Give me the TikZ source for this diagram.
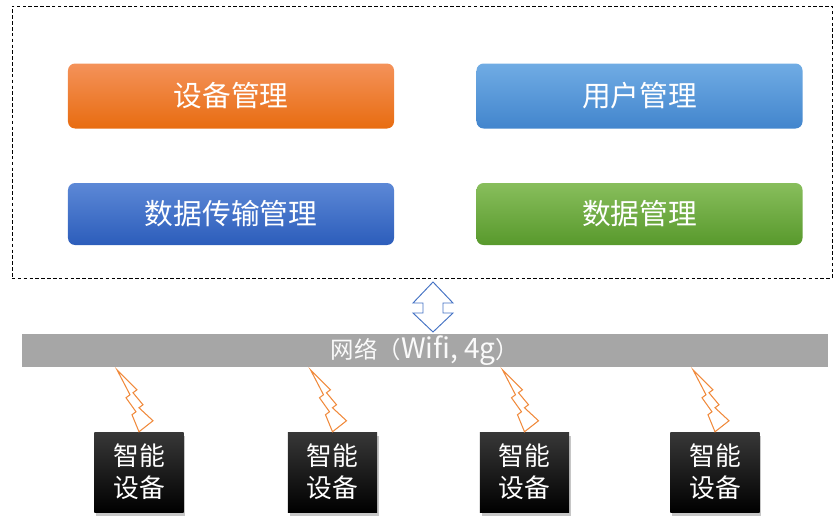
\documentclass[tikz,border=0pt]{standalone}
\usepackage{fontspec}
\newfontfamily\cjk{Noto Sans CJK SC}
\usetikzlibrary{shadows}

\definecolor{naranjaA}{HTML}{F4925A}
\definecolor{naranjaB}{HTML}{E86C10}
\definecolor{celesteA}{HTML}{70ACE4}
\definecolor{celesteB}{HTML}{4285CD}
\definecolor{azulA}{HTML}{5C88D6}
\definecolor{azulB}{HTML}{2C5DBB}
\definecolor{verdeA}{HTML}{88BE5C}
\definecolor{verdeB}{HTML}{58992C}
\definecolor{gris}{HTML}{A6A6A6}
\definecolor{flechaazul}{HTML}{4472C4}
\definecolor{rayonaranja}{HTML}{F08A3C}

\begin{document}
\begin{tikzpicture}[x=0.03cm, y=-0.03cm,
    modulo/.style={rounded corners=6pt, minimum width=9.78cm, minimum height=1.95cm,
        text=white, font=\cjk\fontsize{24.5}{28}\selectfont},
    equipo/.style={minimum width=2.68cm, minimum height=2.4cm, align=center,
        top color=black!78, middle color=black, bottom color=black, text=white,
        font=\cjk\fontsize{22}{27}\selectfont,
        drop shadow={shadow xshift=1.5pt, shadow yshift=-3pt, opacity=0.45}},
    rayo/.style={draw=rayonaranja, line width=0.9pt, line join=miter}]

    \useasboundingbox (0,0) rectangle (840,529);

    % plataforma
    \node[draw, dash pattern=on 3pt off 2pt, line width=0.6pt,
        minimum width=24.6cm, minimum height=8.16cm] (plataforma) at (422,142) {};
    \node[modulo, top color=naranjaA, bottom color=naranjaB] (dispositivos) at (231,96) {设备管理};
    \node[modulo, top color=celesteA, bottom color=celesteB] (usuarios) at (639.5,96) {用户管理};
    \node[modulo, minimum height=1.86cm, top color=azulA, bottom color=azulB] (transmision) at (231,214) {数据传输管理};
    \node[modulo, minimum height=1.86cm, top color=verdeA, bottom color=verdeB] (datos) at (639.5,214) {数据管理};

    % red
    \node[fill=gris, minimum width=24.18cm, minimum height=0.99cm, inner sep=0pt,
        text=white!94!gris, font=\cjk\fontsize{20}{22}\selectfont] (red) at (425,350.5)
        {网络（{\fontsize{24}{24}\selectfont Wifi, 4g}）};

    % flecha doble entre plataforma y red
    \coordinate (enlace) at (433,307);
    \draw[flechaazul, fill=white, line width=0.8pt, line join=miter, shift={(enlace)}]
        (0,-25) -- (20,-4) -- (10,-4) -- (10,6) -- (20,6) -- (0,25)
        -- (-20,6) -- (-10,6) -- (-10,-4) -- (-20,-4) -- cycle;

    % equipos
    \node[equipo] (equipo1) at (139,472) {智能\\设备};
    \node[equipo] (equipo2) at (332.5,472) {智能\\设备};
    \node[equipo] (equipo3) at (524.5,472) {智能\\设备};
    \node[equipo] (equipo4) at (715,472) {智能\\设备};

    % rayos: #1 = equipo
    \newcommand{\rayo}[1]{%
        \draw[rayo, shift={(#1.north)}] (0,0) -- (14,-11) -- (0,-24) -- (4,-27)
            -- (-6,-39) -- (-2,-42) -- (-22,-62) -- (-9,-37) -- (-13,-34)
            -- (-3,-20) -- (-7,-17) -- cycle;}
    \foreach \e in {equipo1,equipo2,equipo3,equipo4}
        {\rayo{\e}}

\end{tikzpicture}
\end{document}
